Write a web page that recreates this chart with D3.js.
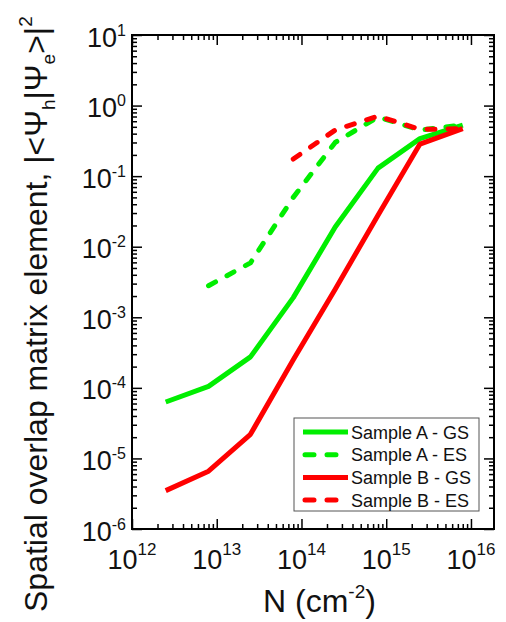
<!DOCTYPE html>
<html>
<head>
<meta charset="utf-8">
<script src="https://cdn.jsdelivr.net/npm/d3@7"></script>
<style>
  html, body { margin: 0; padding: 0; background: #fff; }
  svg { display: block; font-family: "Liberation Sans", Arial, sans-serif; }
</style>
</head>
<body>
<svg id="chart" width="506" height="622"></svg>
<script>
// Carrier density (cm^-2) at which each overlap was computed
const density = [2.5e12, 8e12, 2.5e13, 8e13, 2.5e14, 8e14, 2.5e15, 8e15];

// |<Psi_h|Psi_e>|^2 for each sample and state (null = not computed)
const sampleA_GS = [6.3e-5, 1.05e-4, 2.75e-4, 1.9e-3, 1.9e-2, 0.13, 0.34, 0.53];
const sampleA_ES = [null, 2.8e-3, 5.9e-3, 0.05, 0.30, 0.69, 0.45, 0.53];
const sampleB_GS = [3.5e-6, 6.6e-6, 2.2e-5, 2.5e-4, 2.5e-3, 0.028, 0.285, 0.47];
const sampleB_ES = [null, null, null, 0.175, 0.45, 0.71, 0.46, 0.47];

const seriesNames = ["Sample A - GS", "Sample A - ES", "Sample B - GS", "Sample B - ES"];
const seriesColors = ["#00ee00", "#00ee00", "#ff0000", "#ff0000"];
const seriesDashed = [false, true, false, true];
const seriesValues = [sampleA_GS, sampleA_ES, sampleB_GS, sampleB_ES];

// Axis tick labels: base "10" with exponent
const xTickExponents = ["12", "13", "14", "15", "16"];
const yTickExponents = ["-6", "-5", "-4", "-3", "-2", "-1", "0", "1"];

const svg = d3.select("#chart");
const L = 132, R = 494, T = 35, B = 529;

const x = d3.scaleLog().domain([1e12, 1.87e16]).range([L, R]);
const y = d3.scaleLog().domain([1e-6, 1e1]).range([B, T]);

// minor ticks (2..9 per decade) and major ticks
function logTicks(lo, hi) {
  const major = [], minor = [];
  for (let e = Math.floor(Math.log10(lo)); e <= Math.ceil(Math.log10(hi)); e++) {
    for (let m = 1; m <= 9; m++) {
      const v = m * Math.pow(10, e);
      if (v < lo * 0.999 || v > hi * 1.001) continue;
      (m === 1 ? major : minor).push(v);
    }
  }
  return { major, minor };
}
const xt = logTicks(1e12, 1.87e16);
const yt = logTicks(1e-6, 1e1);
const MAJ = 10, MIN = 5;

function drawAxis(axisFn, scale, vals, size, transform) {
  const g = svg.append("g").attr("transform", transform)
    .call(axisFn(scale).tickValues(vals).tickSize(size).tickFormat(""));
  g.select(".domain").remove();
  g.selectAll(".tick line").attr("stroke", "#000").attr("stroke-width", 1.5);
}
// bottom and top (ticks point inward)
drawAxis(d3.axisBottom, x, xt.major, -MAJ, `translate(0,${B})`);
drawAxis(d3.axisBottom, x, xt.minor, -MIN, `translate(0,${B})`);
drawAxis(d3.axisTop, x, xt.major, -MAJ, `translate(0,${T})`);
drawAxis(d3.axisTop, x, xt.minor, -MIN, `translate(0,${T})`);
// left and right
drawAxis(d3.axisLeft, y, yt.major, -MAJ, `translate(${L},0)`);
drawAxis(d3.axisLeft, y, yt.minor, -MIN, `translate(${L},0)`);
drawAxis(d3.axisRight, y, yt.major, -MAJ, `translate(${R},0)`);
drawAxis(d3.axisRight, y, yt.minor, -MIN, `translate(${R},0)`);

// frame
svg.append("rect").attr("x", L).attr("y", T).attr("width", R - L).attr("height", B - T)
  .attr("fill", "none").attr("stroke", "#000").attr("stroke-width", 2);

// tick labels
xt.major.forEach((v, i) => {
  const t = svg.append("text").attr("x", x(v)).attr("y", B + 40)
    .attr("text-anchor", "middle").attr("font-size", 27).attr("fill", "#111");
  t.append("tspan").text("10");
  t.append("tspan").attr("font-size", 17).attr("dy", -14).text(xTickExponents[i]);
});
yt.major.forEach((v, i) => {
  const t = svg.append("text").attr("x", L - 6).attr("y", y(v) + 11.5)
    .attr("text-anchor", "end").attr("font-size", 27).attr("fill", "#111");
  t.append("tspan").text("10");
  t.append("tspan").attr("font-size", 16).attr("dy", -11).text(yTickExponents[i]);
});

// axis titles
const xl = svg.append("text").attr("x", 263).attr("y", 612)
  .attr("font-size", 32).attr("fill", "#111");
xl.append("tspan").text("N (cm");
xl.append("tspan").attr("font-size", 19).attr("dy", -14).text("-2");
xl.append("tspan").attr("dy", 14).text(")");

const yl = svg.append("text").attr("transform", "translate(47,612) rotate(-90)")
  .attr("font-size", 32).attr("fill", "#111");
yl.append("tspan").text("Spatial overlap matrix element, |<Ψ");
yl.append("tspan").attr("font-size", 19).attr("dy", 8).text("h");
yl.append("tspan").attr("dy", -8).text("|Ψ");
yl.append("tspan").attr("font-size", 19).attr("dy", 8).text("e");
yl.append("tspan").attr("dy", -8).text(">|");
yl.append("tspan").attr("font-size", 19).attr("dy", -15).text("2");

// series lines
const line = d3.line()
  .defined(d => d[1] != null)
  .x(d => x(d[0])).y(d => y(d[1]));
seriesValues.forEach((vals, i) => {
  svg.append("path")
    .datum(density.map((n, j) => [n, vals[j]]))
    .attr("d", line)
    .attr("fill", "none")
    .attr("stroke", seriesColors[i])
    .attr("stroke-width", 5)
    .attr("stroke-linejoin", "round")
    .attr("stroke-linecap", seriesDashed[i] ? "round" : "butt")
    .attr("stroke-dasharray", seriesDashed[i] ? "8,13" : null);
});

// legend
const lg = svg.append("g");
lg.append("rect").attr("x", 294).attr("y", 418).attr("width", 185).attr("height", 93)
  .attr("fill", "#fff").attr("stroke", "#555").attr("stroke-width", 1);
seriesNames.forEach((name, i) => {
  const cy = 432 + i * 22.7;
  lg.append("line").attr("x1", seriesDashed[i] ? 305 : 303).attr("x2", 348)
    .attr("y1", cy).attr("y2", cy)
    .attr("stroke", seriesColors[i]).attr("stroke-width", 5)
    .attr("stroke-linecap", seriesDashed[i] ? "round" : "butt")
    .attr("stroke-dasharray", seriesDashed[i] ? "9,13" : null);
  lg.append("text").attr("x", 351).attr("y", cy + 6.5)
    .attr("font-size", 18).attr("fill", "#111").text(name);
});
</script>
</body>
</html>
